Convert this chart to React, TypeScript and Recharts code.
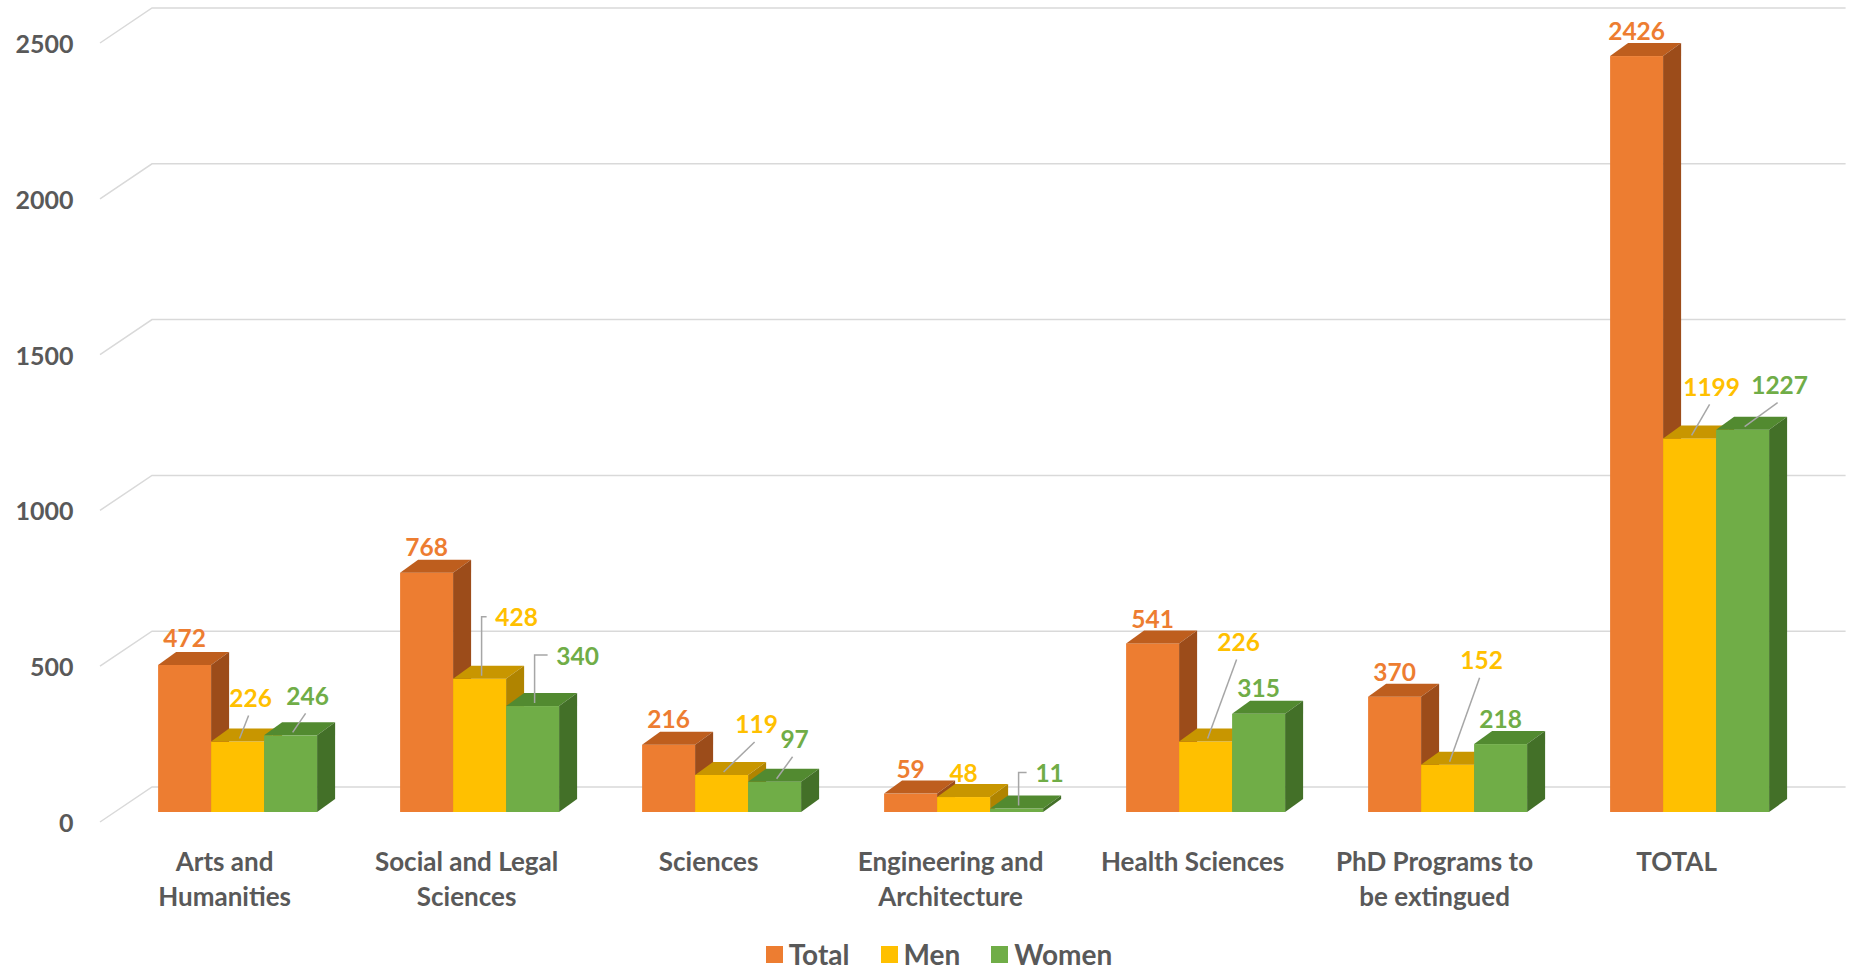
import React from "react";
import { BarChart, Bar, XAxis, YAxis, CartesianGrid, Legend, LabelList } from "recharts";

const CATEGORIES = [
  "Arts and\nHumanities",
  "Social and Legal\nSciences",
  "Sciences",
  "Engineering and\nArchitecture",
  "Health Sciences",
  "PhD Programs to\nbe extingued",
  "TOTAL",
];
const TOTAL = [472, 768, 216, 59, 541, 370, 2426];
const MEN = [226, 428, 119, 48, 226, 152, 1199];
const WOMEN = [246, 340, 97, 11, 315, 218, 1227];
const Y_TICKS = [0, 500, 1000, 1500, 2000, 2500];

// label placement relative to the bar's front-top centre: [dx, dy, leader]
// leader: "" none, "d" diagonal, "e" elbow
type Place = [number, number, "" | "d" | "e"];
const TOTAL_PLACES: Place[] = [[0, -27, ""], [0, -26, ""], [0, -26, ""], [0, -25, ""], [0, -25, ""], [0, -25, ""], [0, -26, ""]];
const MEN_PLACES: Place[] = [[13, -44, "d"], [37, -62, "e"], [35, -51, "d"], [0, -25, ""], [33, -100, "d"], [34, -105, "d"], [22, -52, "d"]];
const WOMEN_PLACES: Place[] = [[17, -40, "d"], [45, -51, "e"], [20, -43, "d"], [33, -36, "e"], [0, -26, ""], [0, -26, ""], [37, -45, "d"]];

const FONT = "Lato, 'Open Sans', sans-serif";
const AXIS_GREY = "#595959";
const GRID = "#D9D9D9";
const LEADER = "#A6A6A6";

// fake 3D depth of each column and the offset of the group relative to the band
const DX = 18;
const DY = 13;
const SHIFT = 12.5;

const SERIES = [
  { key: "total", name: "Total", front: "#ED7D31", top: "#BE5E1E", side: "#9C4C1A", places: TOTAL_PLACES },
  { key: "men", name: "Men", front: "#FFC000", top: "#C89600", side: "#B08400", places: MEN_PLACES },
  { key: "women", name: "Women", front: "#70AD47", top: "#528A30", side: "#437028", places: WOMEN_PLACES },
];

const data = CATEGORIES.map((category, i) => ({
  category,
  total: TOTAL[i],
  men: MEN[i],
  women: WOMEN[i],
}));

function Column3D(props: any) {
  const { x, y, width, height, colors } = props;
  if (x == null || y == null) return null;
  const x0 = x + SHIFT;
  const x1 = x0 + width;
  const yb = y + height;
  return (
    <g>
      <rect x={x0} y={y} width={width} height={height} fill={colors.front} />
      <path d={`M${x0},${y}L${x0 + DX},${y - DY}L${x1 + DX},${y - DY}L${x1},${y}Z`} fill={colors.top} />
      <path d={`M${x1},${y}L${x1 + DX},${y - DY}L${x1 + DX},${yb - DY}L${x1},${yb}Z`} fill={colors.side} />
    </g>
  );
}

function makeLabel(s: (typeof SERIES)[number]) {
  return (p: any) => {
    const vb = p.viewBox || {};
    const x = p.x ?? vb.x;
    const y = p.y ?? vb.y;
    const width = p.width ?? vb.width;
    const index = p.index;
    const value = p.value;
    const [dx, dy, kind] = s.places[index] || [0, -26, ""];
    const cx = x + SHIFT + width / 2;
    const lx = cx + dx;
    const ly = y + dy;
    let leader: React.ReactNode = null;
    if (kind === "d") {
      leader = <path d={`M${cx + 2},${y - 3}L${lx - 2},${ly + 18}`} stroke={LEADER} strokeWidth={1.5} fill="none" />;
    } else if (kind === "e") {
      const ex = lx - String(value).length * 7 - 9;
      leader = <path d={`M${cx + 2},${y - 3}V${ly}H${ex}`} stroke={LEADER} strokeWidth={1.5} fill="none" />;
    }
    return (
      <g key={`${s.key}-${index}`}>
        {leader}
        <text
          x={lx}
          y={ly}
          textAnchor="middle"
          dominantBaseline="central"
          fill={s.front}
          fontFamily={FONT}
          fontWeight={700}
          fontSize={24.5}
        >
          {value}
        </text>
      </g>
    );
  };
}

function CategoryTick({ x, y, payload }: any) {
  const lines = String(payload.value).split("\n");
  return (
    <g>
      {lines.map((line, i) => (
        <text
          key={i}
          x={x}
          y={y + 49 + i * 35}
          textAnchor="middle"
          dominantBaseline="central"
          fill={AXIS_GREY}
          fontFamily={FONT}
          fontWeight={700}
          fontSize={26}
        >
          {line}
        </text>
      ))}
    </g>
  );
}

function ValueTick({ x, y, payload }: any) {
  return (
    <text
      x={x}
      y={y + 10}
      textAnchor="end"
      dominantBaseline="central"
      fill={AXIS_GREY}
      fontFamily={FONT}
      fontWeight={700}
      fontSize={25}
    >
      {payload.value}
    </text>
  );
}

// back-wall gridline with the slanted piece on the side wall
function GridLine(props: any) {
  const { y1, x2, index } = props;
  return (
    <path
      key={`grid-${index}`}
      d={`M100,${y1 + 10}L152,${y1 - 25}H${x2 + 48}`}
      stroke={GRID}
      strokeWidth={1.5}
      fill="none"
    />
  );
}

function LegendContent() {
  return (
    <div style={{ display: "flex", justifyContent: "center", alignItems: "center", gap: 31, height: 26 }}>
      {SERIES.map((s) => (
        <span
          key={s.key}
          style={{
            display: "flex",
            alignItems: "center",
            gap: 6,
            fontFamily: FONT,
            fontWeight: 700,
            fontSize: 28,
            color: AXIS_GREY,
            lineHeight: "26px",
          }}
        >
          <span style={{ width: 17, height: 17, background: s.front, display: "inline-block" }} />
          {s.name}
        </span>
      ))}
    </div>
  );
}

export default function App() {
  return (
    <div style={{ position: "absolute", left: 0, top: 0, width: 1854, height: 968, background: "#fff" }}>
      <BarChart
        width={1854}
        height={968}
        data={data}
        margin={{ top: 33, right: 56.4, bottom: 56, left: 13.6 }}
        barGap={0}
        barSize={53}
      >
        <CartesianGrid vertical={false} horizontal={(p: any) => <GridLine {...p} />} />
        <XAxis
          dataKey="category"
          height={100}
          interval={0}
          axisLine={false}
          tickLine={false}
          tickSize={0}
          tickMargin={0}
          tick={<CategoryTick />}
        />
        <YAxis
          width={90}
          domain={[0, 2500]}
          ticks={Y_TICKS}
          axisLine={false}
          tickLine={false}
          tickSize={0}
          tickMargin={30}
          tick={<ValueTick />}
        />
        <Legend
          verticalAlign="middle"
          align="center"
          wrapperStyle={{ top: 941, left: 12, width: 1854 }}
          content={<LegendContent />}
        />
        {SERIES.map((s) => (
          <Bar
            key={s.key}
            dataKey={s.key}
            name={s.name}
            fill={s.front}
            isAnimationActive={false}
            shape={(p: any) => <Column3D {...p} colors={s} />}
          >
            <LabelList dataKey={s.key} content={makeLabel(s)} />
          </Bar>
        ))}
      </BarChart>
    </div>
  );
}
